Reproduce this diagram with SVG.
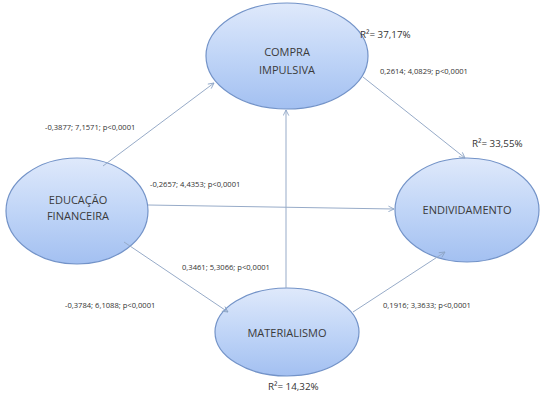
<svg xmlns="http://www.w3.org/2000/svg" width="540" height="394" viewBox="0 0 540 394">
<defs>
<linearGradient id="g" x1="0" y1="0" x2="0" y2="1">
<stop offset="0" stop-color="#dfe9fb"/>
<stop offset="0.5" stop-color="#c0d5f7"/>
<stop offset="1" stop-color="#a3c0f1"/>
</linearGradient>
<marker id="a" viewBox="0 0 10 10" refX="9" refY="5" markerWidth="7" markerHeight="7" orient="auto" markerUnits="userSpaceOnUse">
<path d="M1,1 L9,5 L1,9" fill="none" stroke="#8aa2c4" stroke-width="1.2"/>
</marker>
<style>
.n{fill:url(#g);stroke:#7393c8;stroke-width:1.2}
.t{font-family:"Open Sans","Liberation Sans",sans-serif;font-size:11px;fill:#3a3a3a;text-anchor:middle}
.l{font-family:"Open Sans","Liberation Sans",sans-serif;font-size:7.6px;fill:#333}
.r{font-family:"Open Sans","Liberation Sans",sans-serif;font-size:9.8px;fill:#333}
.c{stroke:#97abc8;stroke-width:1;fill:none;marker-end:url(#a)}
</style>
</defs>
<rect width="540" height="394" fill="#fff"/>
<g id="compra">
<ellipse class="n" cx="287" cy="56" rx="81" ry="53"/>
<text class="t" x="287" y="56">COMPRA</text>
<text class="t" x="287" y="74">IMPULSIVA</text>
</g>
<g id="educacao">
<ellipse class="n" cx="77" cy="211" rx="71" ry="53"/>
<text class="t" x="78" y="204">EDUCAÇÃO</text>
<text class="t" x="78" y="220">FINANCEIRA</text>
</g>
<g id="endividamento">
<ellipse class="n" cx="467" cy="210" rx="72" ry="52"/>
<text class="t" x="467" y="214">ENDIVIDAMENTO</text>
</g>
<g id="materialismo">
<ellipse class="n" cx="287" cy="332" rx="72" ry="44"/>
<text class="t" x="287" y="337">MATERIALISMO</text>
</g>
<g id="connectors">
<line class="c" x1="103" y1="166" x2="214" y2="83"/>
<line class="c" x1="148" y1="205" x2="394" y2="209"/>
<line class="c" x1="124" y1="242" x2="228" y2="312"/>
<line class="c" x1="286" y1="288" x2="286" y2="110"/>
<line class="c" x1="363" y1="77" x2="465" y2="158"/>
<line class="c" x1="353" y1="312" x2="445" y2="252"/>
</g>
<g id="labels">
<text class="r" x="360" y="38">R²= 37,17%</text>
<text class="r" x="472" y="147">R²= 33,55%</text>
<text class="r" x="268" y="390">R²= 14,32%</text>
<text class="l" x="380" y="74">0,2614; 4,0829; p&lt;0,0001</text>
<text class="l" x="45" y="130">-0,3877; 7,1571; p&lt;0,0001</text>
<text class="l" x="150" y="187">-0,2657; 4,4353; p&lt;0,0001</text>
<text class="l" x="182" y="270">0,3461; 5,3066; p&lt;0,0001</text>
<text class="l" x="65" y="308">-0,3784; 6,1088; p&lt;0,0001</text>
<text class="l" x="383" y="308">0,1916; 3,3633; p&lt;0,0001</text>
</g>
</svg>
